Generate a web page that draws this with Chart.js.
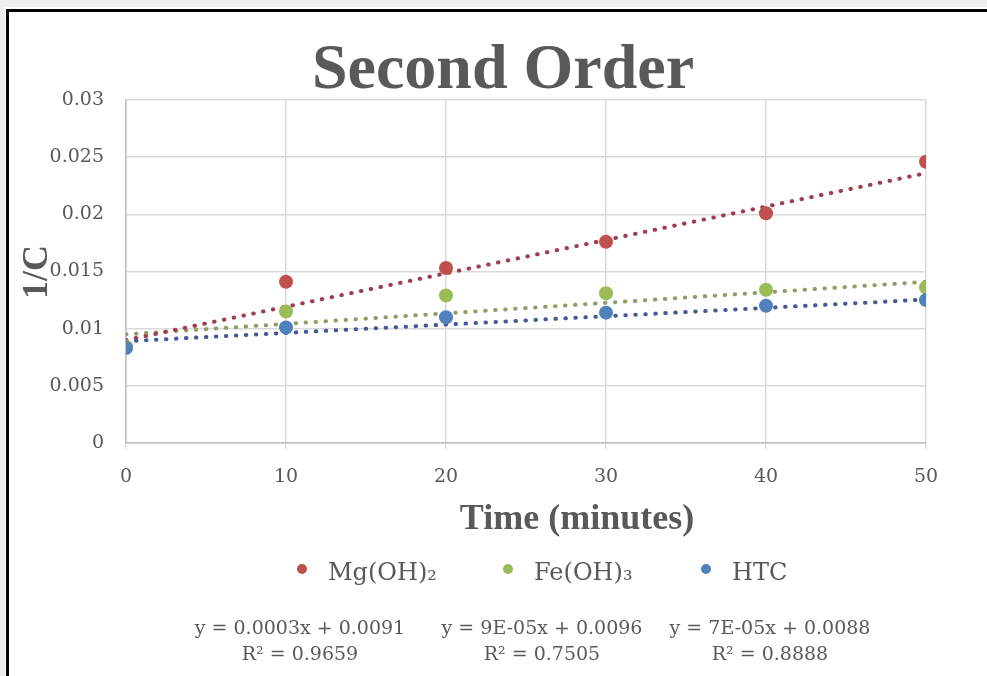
<!DOCTYPE html>
<html>
<head>
<meta charset="utf-8">
<script src="https://cdn.jsdelivr.net/npm/chart.js@4.4.1/dist/chart.umd.min.js"></script>
<style>
  html, body { margin: 0; padding: 0; background: #fff; }
  #wrap { width: 987px; height: 676px; }
</style>
</head>
<body>
<div id="wrap"><canvas id="chart" width="987" height="676"></canvas></div>
<script>
// time in minutes
const times = [0, 10, 20, 30, 40, 50];
const seriesNames = ['Mg(OH)₂', 'Fe(OH)₃', 'HTC'];
const mgValues = [0.0084, 0.0141, 0.0153, 0.0176, 0.0201, 0.0246];
const feValues = [0.0084, 0.0115, 0.0129, 0.0131, 0.0134, 0.0136];
const htcValues = [0.0083, 0.0101, 0.0110, 0.0114, 0.0120, 0.0125];
// linear trendlines, value at t = 0 and t = 50
const trendStart = [0.0090, 0.0095, 0.0089];
const trendEnd = [0.0236, 0.0141, 0.01255];
const yTickLabels = ['0', '0.005', '0.01', '0.015', '0.02', '0.025', '0.03'];
const xTickLabels = ['0', '10', '20', '30', '40', '50'];
const equations = ['y = 0.0003x + 0.0091', 'y = 9E-05x + 0.0096', 'y = 7E-05x + 0.0088'];
const rSquared = ['R² = 0.9659', 'R² = 0.7505', 'R² = 0.8888'];

const colors = ['#C0504D', '#9BBB59', '#4F81BD'];
const trendColors = ['#9E3C50', '#8E9E64', '#44599A'];
const textGray = '#595959';

const allValues = [mgValues, feValues, htcValues];
const datasets = [];

allValues.forEach((vals, i) => {
    datasets.push({
        label: seriesNames[i],
        data: times.map((t, k) => ({ x: t, y: vals[k] })),
        showLine: false,
        pointRadius: 7,
        pointBackgroundColor: colors[i],
        pointBorderColor: colors[i],
        pointBorderWidth: 0,
        order: 3 - i
    });
});
allValues.forEach((vals, i) => {
    datasets.push({
        label: seriesNames[i] + ' trend',
        data: [
            { x: times[0], y: trendStart[i] },
            { x: times[times.length - 1], y: trendEnd[i] }
        ],
        showLine: true,
        pointRadius: 0,
        borderColor: trendColors[i],
        borderWidth: 4,
        borderDash: [0.5, 9.5],
        borderCapStyle: 'round',
        order: 10 + i
    });
});

const decorPlugin = {
    id: 'decor',
    beforeDraw(chart) {
        const ctx = chart.ctx;
        ctx.save();
        ctx.fillStyle = '#ffffff';
        ctx.fillRect(0, 0, chart.width, chart.height);
        ctx.fillStyle = '#eeeeee';
        ctx.fillRect(0, 0, chart.width, 7);
        ctx.fillRect(0, 0, 5, chart.height);
        ctx.restore();
    },
    afterDraw(chart) {
        const ctx = chart.ctx;
        ctx.save();

        // frame
        ctx.strokeStyle = '#000';
        ctx.lineWidth = 3;
        ctx.beginPath();
        ctx.moveTo(chart.width, 10.5);
        ctx.lineTo(7.5, 10.5);
        ctx.lineTo(7.5, chart.height);
        ctx.stroke();

        ctx.fillStyle = textGray;

        // title
        ctx.font = 'bold 64px "Liberation Serif"';
        ctx.textAlign = 'center';
        ctx.textBaseline = 'alphabetic';
        ctx.fillText('Second Order', 503, 88);

        // axis titles
        ctx.font = 'bold 36px "Liberation Serif"';
        ctx.fillText('Time (minutes)', 577, 529);
        ctx.save();
        ctx.translate(47, 272);
        ctx.rotate(-Math.PI / 2);
        ctx.fillText('1/C', 0, 0);
        ctx.restore();

        // legend
        const legendDots = [302, 508, 706];
        ctx.font = '24px "DejaVu Serif"';
        ctx.textAlign = 'left';
        seriesNames.forEach((name, i) => {
            ctx.fillStyle = colors[i];
            ctx.beginPath();
            ctx.arc(legendDots[i], 569, 5, 0, Math.PI * 2);
            ctx.fill();
            ctx.fillStyle = textGray;
            ctx.fillText(name, legendDots[i] + 26, 580);
        });

        // trendline equations
        const eqCenters = [300, 542, 770];
        ctx.font = '19px "DejaVu Serif"';
        ctx.textAlign = 'center';
        ctx.fillStyle = textGray;
        equations.forEach((eq, i) => {
            ctx.fillText(eq, eqCenters[i], 634);
            ctx.fillText(rSquared[i], eqCenters[i], 660);
        });

        ctx.restore();
    }
};

new Chart(document.getElementById('chart'), {
    type: 'scatter',
    data: { datasets },
    options: {
        responsive: false,
        animation: false,
        layout: { padding: { top: 100, right: 61, left: 0, bottom: 0 } },
        plugins: {
            legend: { display: false },
            title: { display: false },
            tooltip: { enabled: false }
        },
        scales: {
            x: {
                type: 'linear',
                min: 0,
                max: 50,
                afterFit: s => { s.height = 233; },
                afterBuildTicks: s => { s.ticks = times.map(v => ({ value: v })); },
                ticks: {
                    callback: (v, i) => xTickLabels[i],
                    color: textGray,
                    font: { family: 'DejaVu Serif', size: 19 },
                    padding: 17,
                    maxRotation: 0
                },
                grid: { color: '#d9d9d9', lineWidth: 1.5, drawTicks: true, tickLength: 6 },
                border: { color: '#bfbfbf', width: 1.5 }
            },
            y: {
                type: 'linear',
                min: 0,
                max: 0.03,
                afterFit: s => { s.width = 126; },
                afterBuildTicks: s => { s.ticks = yTickLabels.map((_, i) => ({ value: i * 0.005 })); },
                ticks: {
                    callback: (v, i) => yTickLabels[i],
                    color: textGray,
                    font: { family: 'DejaVu Serif', size: 19 },
                    padding: 22
                },
                grid: { color: '#d9d9d9', lineWidth: 1.5, drawTicks: false },
                border: { color: '#bfbfbf', width: 1.5 }
            }
        }
    },
    plugins: [decorPlugin]
});
</script>
</body>
</html>
